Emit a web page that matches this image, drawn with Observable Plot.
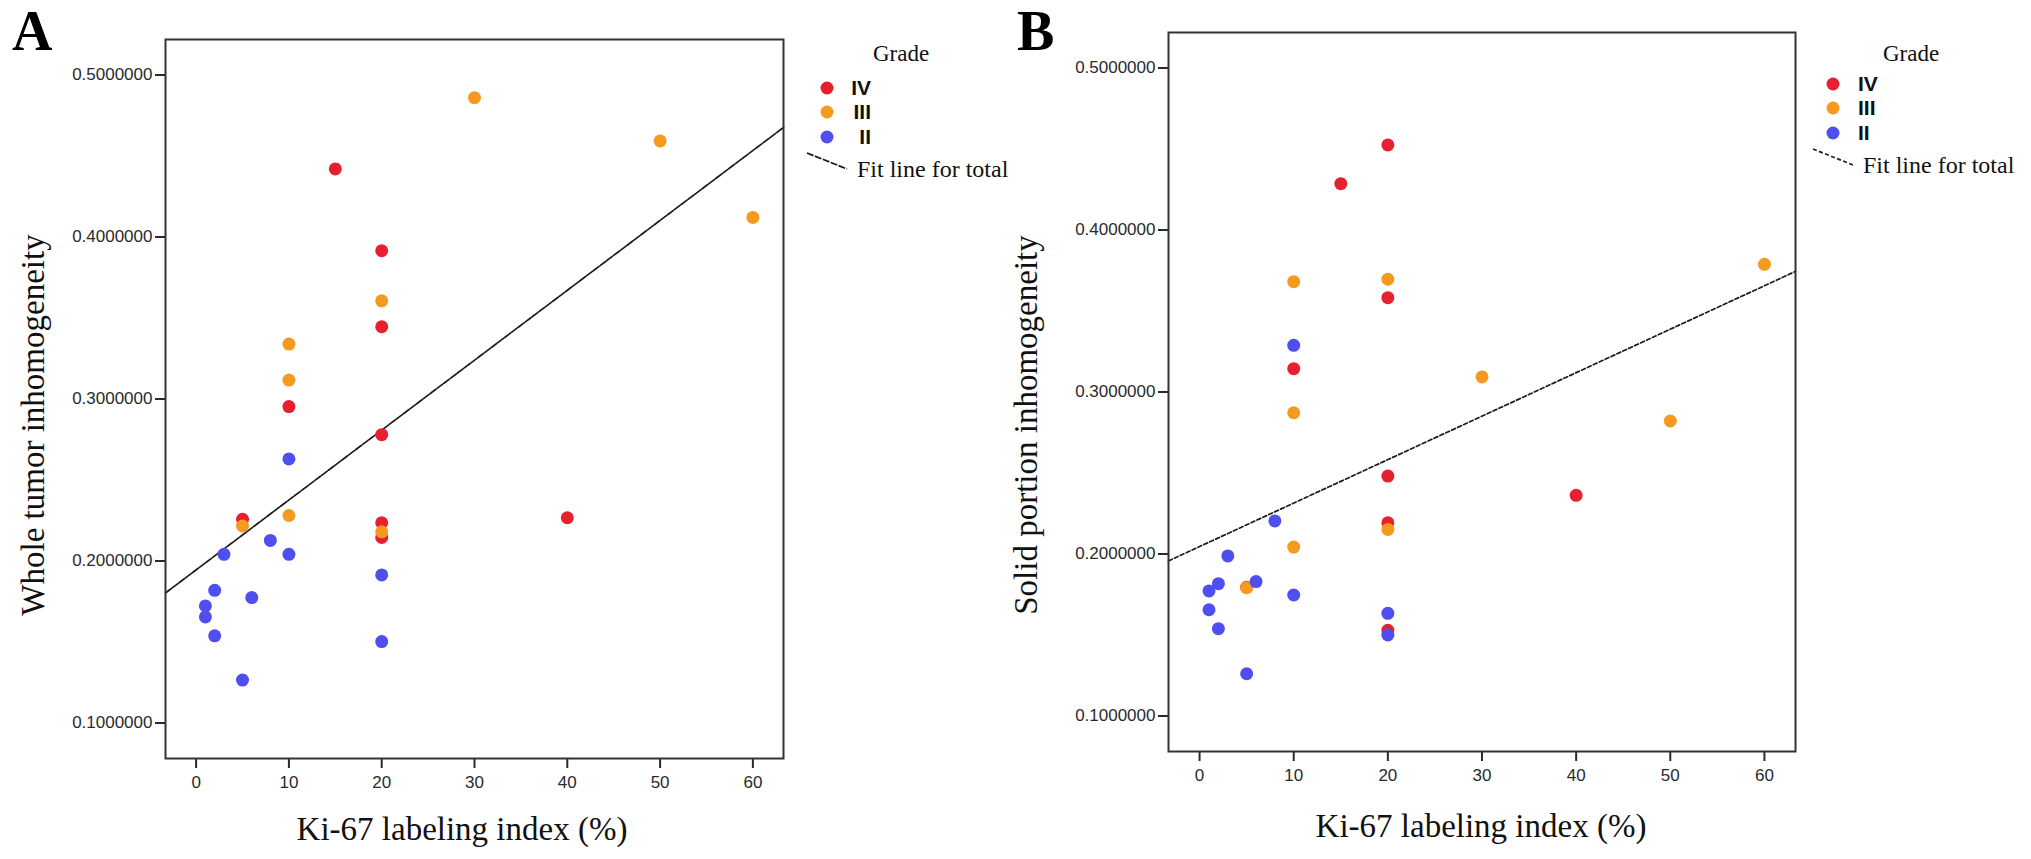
<!DOCTYPE html>
<html>
<head>
<meta charset="utf-8">
<script src="https://cdn.jsdelivr.net/npm/d3@7"></script>
<script src="https://cdn.jsdelivr.net/npm/@observablehq/plot@0.6"></script>
<style>
  body { margin: 0; background: #fff; }
  #wrap { position: relative; width: 2031px; height: 859px; background: #fff; overflow: hidden; }
  #chartA { position: absolute; left: 0; top: 0; }
  #chartB { position: absolute; left: 1000px; top: 0; }
  #wrap svg [aria-label^="x-axis"] line, #wrap svg [aria-label^="x-axis"] path,
  #wrap svg [aria-label^="y-axis"] line, #wrap svg [aria-label^="y-axis"] path { stroke-width: 2px; }
</style>
</head>
<body>
<div id="wrap">
  <div id="chartA"></div>
  <div id="chartB"></div>
</div>
<script>
// grades, drawn in this order (IV under III under II)
const grades = ["IV", "III", "II"];
const gradeColors = ["#e6202e", "#f59a1e", "#4f4ff0"];

const xTicks = [0, 10, 20, 30, 40, 50, 60];
const yTicks = [0.1, 0.2, 0.3, 0.4, 0.5];

// panel A: Ki-67 index vs whole tumor inhomogeneity
const aKi67IV  = [15, 20, 20, 10, 20, 5, 40, 20, 20];
const aWholeIV = [0.442, 0.3915, 0.3446, 0.2953, 0.278, 0.2257, 0.2267, 0.2236, 0.2145];
const aKi67III  = [30, 50, 20, 10, 10, 5, 10, 20, 60];
const aWholeIII = [0.486, 0.4593, 0.3606, 0.3339, 0.3117, 0.2216, 0.2281, 0.218, 0.4121];
const aKi67II  = [10, 8, 3, 10, 20, 2, 6, 1, 1, 2, 20, 5];
const aWholeII = [0.263, 0.2127, 0.2041, 0.2041, 0.1914, 0.1819, 0.1774, 0.1723, 0.1655, 0.1538, 0.1503, 0.1265];

// panel B: Ki-67 index vs solid portion inhomogeneity
const bKi67IV  = [5, 20, 15, 20, 10, 20, 40, 20, 20];
const bSolidIV = [0.1795, 0.4525, 0.4286, 0.3582, 0.3144, 0.2481, 0.2362, 0.2193, 0.1529];
const bKi67III  = [10, 20, 30, 10, 20, 10, 5, 50, 60];
const bSolidIII = [0.3681, 0.3696, 0.3093, 0.2872, 0.2152, 0.2043, 0.1792, 0.2821, 0.3788];
const bKi67II  = [10, 8, 3, 2, 6, 1, 10, 1, 20, 2, 20, 5];
const bSolidII = [0.3288, 0.2204, 0.1988, 0.1817, 0.183, 0.1772, 0.1747, 0.1656, 0.1634, 0.1539, 0.15, 0.1261];

const xDomain = [-3.3, 63.3];
const yDomain = [0.0781, 0.5219];

function rows(pairs) {
  return pairs.flatMap(([xs, ys], g) => xs.map((x, i) => ({ki67: x, value: ys[i], grade: grades[g]})));
}

// least squares fit over all points ("fit line for total")
function fitLine(data) {
  const mx = d3.mean(data, d => d.ki67), my = d3.mean(data, d => d.value);
  const sxy = d3.sum(data, d => (d.ki67 - mx) * (d.value - my));
  const sxx = d3.sum(data, d => (d.ki67 - mx) ** 2);
  const b = sxy / sxx, a = my - b * mx;
  return xDomain.map(x => ({ki67: x, value: a + b * x}));
}

function scatter(data, opts) {
  return Plot.plot({
    width: opts.width,
    height: 859,
    marginLeft: opts.left,
    marginRight: opts.right,
    marginTop: opts.top,
    marginBottom: opts.bottom,
    style: {background: "transparent", fontFamily: "'Liberation Sans', Arial, sans-serif", fontSize: "17px", color: "#2a2a2a", overflow: "visible"},
    x: {domain: xDomain, ticks: xTicks, tickSize: 10, tickPadding: 7, label: null},
    y: {domain: yDomain, ticks: yTicks, tickSize: 10, tickPadding: 3, tickFormat: d3.format(".7f"), label: null},
    color: {domain: grades, range: gradeColors},
    marks: [
      Plot.line(fitLine(data), {x: "ki67", y: "value", stroke: "#1a1a1a", strokeWidth: 1.7, strokeDasharray: opts.dash}),
      Plot.dot(data, {x: "ki67", y: "value", fill: "grade", r: 6.5}),
      Plot.frame({stroke: "#333", strokeWidth: 2})
    ]
  });
}

function addText(svg, x, y, str, attrs) {
  const t = svg.append("text").attr("x", x).attr("y", y).attr("text-anchor", "start").text(str);
  Object.entries(attrs).forEach(([k, v]) => t.attr(k, v));
  return t;
}

function decorate(chart, o) {
  const svg = d3.select(chart);
  const serif = "'Liberation Serif', 'Times New Roman', serif";
  addText(svg, o.letterX, 50, o.letter, {"font-family": serif, "font-size": 56, "font-weight": "bold", fill: "#000"});
  addText(svg, 0, 0, o.yTitle, {"font-family": serif, "font-size": 33, fill: "#111", "text-anchor": "middle",
    transform: `translate(${o.yTitleX},425) rotate(-90)`});
  addText(svg, o.xTitleX, o.xTitleY, "Ki-67 labeling index (%)", {"font-family": serif, "font-size": 33, fill: "#111", "text-anchor": "middle"});
  // legend
  addText(svg, o.gradeX, 61, "Grade", {"font-family": serif, "font-size": 23, fill: "#111"});
  grades.forEach((g, i) => {
    svg.append("circle").attr("cx", o.dotX).attr("cy", o.dotY[i]).attr("r", 6.5).attr("fill", gradeColors[i]);
    addText(svg, o.labelX, o.dotY[i] + 7, g, {"font-family": "'Liberation Sans', Arial, sans-serif", "font-size": 21,
      "font-weight": "bold", fill: "#111", "text-anchor": o.labelAnchor});
  });
  svg.append("line").attr("x1", o.fitX).attr("y1", o.fitY).attr("x2", o.fitX + 40).attr("y2", o.fitY + 16)
    .attr("stroke", "#1a1a1a").attr("stroke-width", 1.7).attr("stroke-dasharray", o.dash);
  addText(svg, o.fitX + 50, o.fitY + 24, "Fit line for total", {"font-family": serif, "font-size": 24, fill: "#111"});
}

const dataA = rows([[aKi67IV, aWholeIV], [aKi67III, aWholeIII], [aKi67II, aWholeII]]);
const dataB = rows([[bKi67IV, bSolidIV], [bKi67III, bSolidIII], [bKi67II, bSolidII]]);

const chartA = scatter(dataA, {width: 1000, left: 165, right: 217, top: 39, bottom: 101, dash: "7,1.5"});
decorate(chartA, {letter: "A", letterX: 12, yTitle: "Whole tumor inhomogeneity", yTitleX: 44, xTitleX: 462, xTitleY: 840,
  gradeX: 873, dotX: 827, dotY: [88, 112, 137], labelX: 871, labelAnchor: "end", fitX: 807, fitY: 153, dash: "7,1.5"});
d3.select("#chartA").append(() => chartA);

const chartB = scatter(dataB, {width: 1031, left: 168, right: 236, top: 32, bottom: 108, dash: "4,2.5"});
decorate(chartB, {letter: "B", letterX: 17, yTitle: "Solid portion inhomogeneity", yTitleX: 37, xTitleX: 481, xTitleY: 837,
  gradeX: 883, dotX: 833, dotY: [84, 108, 133], labelX: 858, labelAnchor: "start", fitX: 813, fitY: 149, dash: "4,2.5"});
d3.select("#chartB").append(() => chartB);
</script>
</body>
</html>
